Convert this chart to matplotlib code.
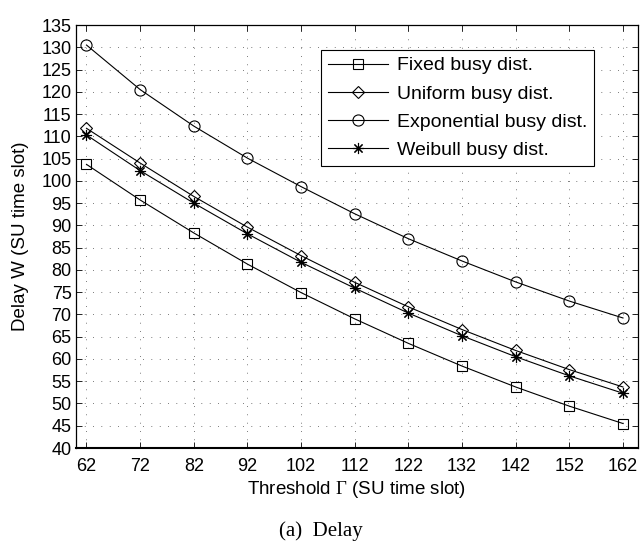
import numpy as np
import matplotlib.pyplot as plt

plt.rcParams['font.family'] = ['Liberation Sans', 'DejaVu Sans']
plt.rcParams['mathtext.fontset'] = 'custom'
plt.rcParams['mathtext.rm'] = 'Liberation Serif'
plt.rcParams['mathtext.it'] = 'Liberation Serif'

threshold = [62, 72, 82, 92, 102, 112, 122, 132, 142, 152, 162]
fixed = [103.7, 95.7, 88.3, 81.3, 74.9, 69.0, 63.5, 58.4, 53.7, 49.4, 45.5]
uniform = [111.8, 104.0, 96.5, 89.6, 83.2, 77.2, 71.7, 66.6, 61.9, 57.6, 53.7]
exponential = [130.5, 120.5, 112.3, 105.1, 98.7, 92.6, 87.0, 82.0, 77.3, 73.0, 69.2]
weibull = [110.3, 102.3, 95.0, 88.1, 81.7, 75.9, 70.3, 65.2, 60.5, 56.2, 52.3]

fig = plt.figure(figsize=(6.42, 5.52), dpi=100)
ax = fig.add_axes([0.118, 0.1884, 0.8758, 0.7663])

lw = 0.8
ax.plot(threshold, fixed, color='black', lw=lw, marker='s', ms=6.5, mfc='none', mew=0.8, label='Fixed busy dist.')
ax.plot(threshold, uniform, color='black', lw=lw, marker='D', ms=6, mfc='none', mew=0.8, label='Uniform busy dist.')
ax.plot(threshold, exponential, color='black', lw=lw, marker='o', ms=8, mfc='none', mew=0.8, label='Exponential busy dist.')
ax.plot(threshold, weibull, color='black', lw=lw, marker=(8, 2, 0), ms=8, mfc='none', mew=0.8, label='Weibull busy dist.')

ax.set_xlim(60, 164.8)
ax.set_ylim(40, 135)
ax.set_xticks(threshold)
ax.set_yticks(np.arange(40, 136, 5))
ax.tick_params(direction='in', top=True, right=True, labelsize=13, length=4.5, width=0.6, pad=3)
ax.tick_params(axis='x', pad=7)
ax.grid(True, color='black', linestyle=(0, (1, 11)), linewidth=0.5)
for s in ax.spines.values():
    s.set_linewidth(0.9)
ax.spines['bottom'].set_linewidth(1.5)

ax.set_xlabel(r'Threshold $\Gamma$ (SU time slot)', fontsize=13.5, labelpad=3)
ax.set_ylabel('Delay W (SU time slot)', fontsize=13.5, labelpad=9)

leg = ax.legend(loc='upper left', bbox_to_anchor=(0.436, 0.941), fontsize=14,
                fancybox=False, edgecolor='black', framealpha=1, handlelength=3.1,
                borderpad=0.35, labelspacing=0.55, handletextpad=0.45, borderaxespad=0)
leg.get_frame().set_linewidth(0.8)

fig.text(0.5, 0.037, '(a)  Delay', ha='center', va='center', fontsize=15, family='Liberation Serif')

fig.savefig('out.png', dpi=100)
